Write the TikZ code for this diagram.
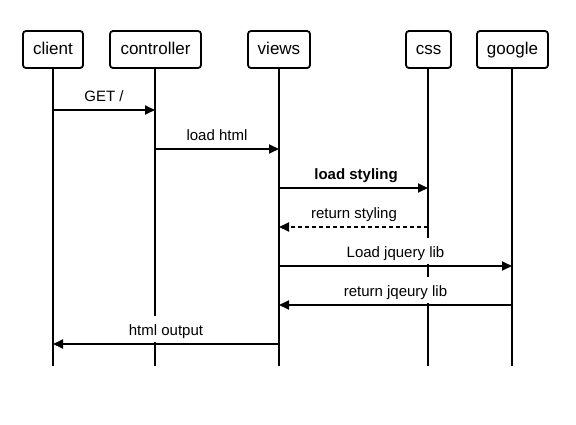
\documentclass[tikz,border=0pt]{standalone}
\usepackage{fontspec}
\setmainfont{Liberation Sans}
\usetikzlibrary{arrows.meta}
\begin{document}
\begin{tikzpicture}[x=1pt,y=-1pt,
  actor/.style={draw,line width=1.8pt,rounded corners=3pt,minimum height=37pt,inner sep=0pt,text height=12.5pt,text depth=3.5pt,font=\fontsize{17}{20}\selectfont},
  life/.style={line width=1.8pt},
  msg/.style={line width=1.8pt,-{Triangle[length=10pt,width=9pt]}},
  dmsg/.style={msg,dash pattern=on 4pt off 3pt},
  lbl/.style={fill=white,anchor=base,inner xsep=2pt,inner ysep=3pt,text height=17pt,text depth=3.5pt,font=\fontsize{15}{18}\selectfont}]
\useasboundingbox (0,0) rectangle (576,424);
% participants
\node[actor,minimum width=60pt] (client) at (53,49.5) {client};
\node[actor,minimum width=91pt] (controller) at (155.5,49.5) {controller};
\node[actor,minimum width=62pt] (views) at (279,49.5) {views};
\node[actor,minimum width=45pt] (css) at (428.5,49.5) {css};
\node[actor,minimum width=71pt] (google) at (512.5,49.5) {google};
% lifeline ends
\coordinate (clientE) at (53,366);
\coordinate (controllerE) at (155,366);
\coordinate (viewsE) at (279,366);
\coordinate (cssE) at (428,366);
\coordinate (googleE) at (512,366);
\draw[life] (client.south -| clientE) -- (clientE);
\draw[life] (controller.south -| controllerE) -- (controllerE);
\draw[life] (views.south -| viewsE) -- (viewsE);
\draw[life] (css.south -| cssE) -- (cssE);
\draw[life] (google.south -| googleE) -- (googleE);
% message endpoints
\coordinate (m1a) at (53,110);  \coordinate (m1b) at (155,110);
\coordinate (m2a) at (155,149); \coordinate (m2b) at (279,149);
\coordinate (m3a) at (279,188); \coordinate (m3b) at (428,188);
\coordinate (m4a) at (428,227); \coordinate (m4b) at (279,227);
\coordinate (m5a) at (279,266); \coordinate (m5b) at (512,266);
\coordinate (m6a) at (512,305); \coordinate (m6b) at (279,305);
\coordinate (m7a) at (279,344); \coordinate (m7b) at (53,344);
% labels
\node[lbl] (l1) at (104,101.5) {GET /};
\node[lbl] (l2) at (217,140.5) {load html};
\node[lbl,font=\fontsize{15}{18}\selectfont\bfseries] (l3) at (356,179.5) {load styling};
\node[lbl] (l4) at (354,218.5) {return styling};
\node[lbl] (l5) at (395.5,257.5) {Load jquery lib};
\node[lbl] (l6) at (395.5,296.5) {return jqeury lib};
\node[lbl] (l7) at (166,335.5) {html output};
% messages
\draw[msg] (m1a) -- (m1b);
\draw[msg] (m2a) -- (m2b);
\draw[msg] (m3a) -- (m3b);
\draw[dmsg] (m4a) -- (m4b);
\draw[msg] (m5a) -- (m5b);
\draw[msg] (m6a) -- (m6b);
\draw[msg] (m7a) -- (m7b);
\end{tikzpicture}
\end{document}
